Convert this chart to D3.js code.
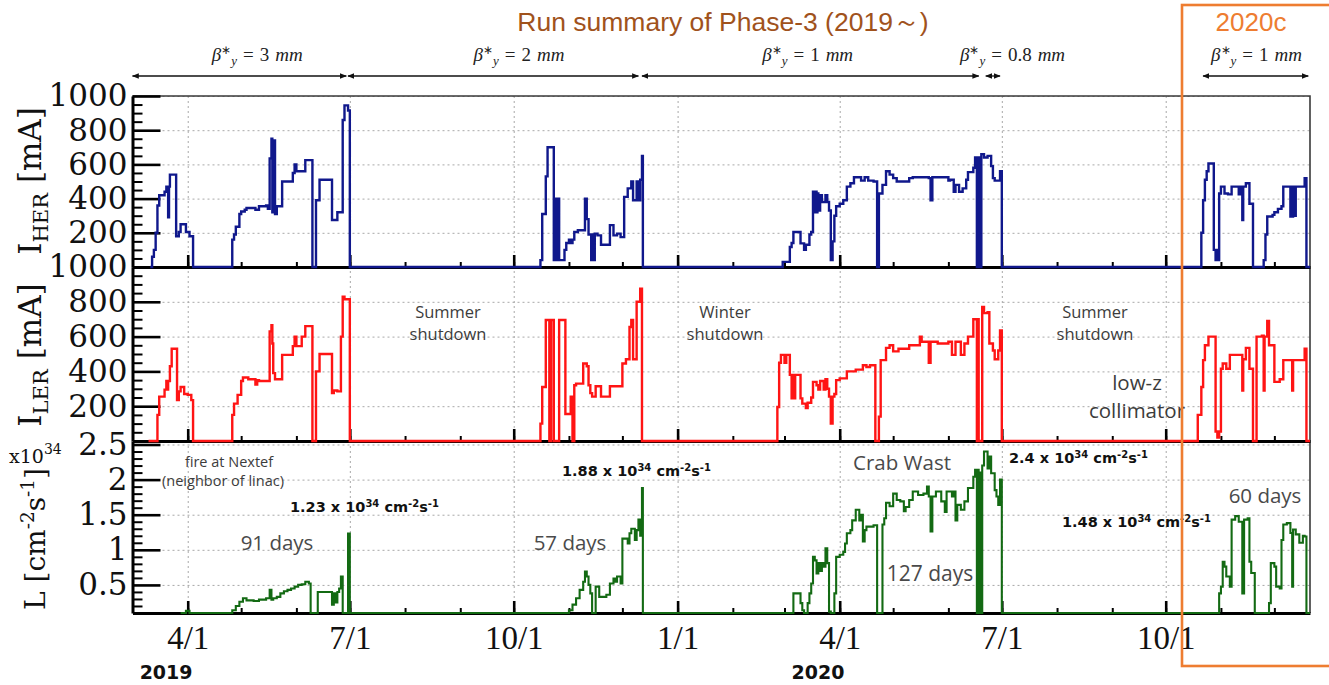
<!DOCTYPE html>
<html>
<head>
<meta charset="utf-8">
<script src="https://cdn.jsdelivr.net/npm/d3@7"></script>
<style>
  body { margin: 0; background: #fff; }
  svg { display: block; }
</style>
</head>
<body>
<svg id="chart" width="1329" height="685"></svg>
<script>
// ---------------------------------------------------------------
// SuperKEKB Phase-3 run summary: HER / LER stored current and
// peak luminosity, 2019-03 .. 2020-12 (step data, value holds until next date)
// ---------------------------------------------------------------

const xDomain = ["2019-03-01", "2020-12-21"];

// HER beam current [mA]
const herCurrent = [
  ["2019-03-11", 0], ["2019-03-12", 60], ["2019-03-13", 100], ["2019-03-14", 200], ["2019-03-15", 360],
  ["2019-03-16", 420], ["2019-03-19", 440], ["2019-03-20", 470], ["2019-03-21", 290], ["2019-03-21T12:00", 470],
  ["2019-03-22", 540], ["2019-03-25T12:00", 180], ["2019-03-27", 205], ["2019-03-28", 250], ["2019-03-31", 205],
  ["2019-04-02", 180], ["2019-04-04", 0],
  ["2019-04-26", 160], ["2019-04-27", 190], ["2019-04-28", 235], ["2019-04-30", 310], ["2019-05-01", 325],
  ["2019-05-03", 335], ["2019-05-04", 345], ["2019-05-09", 335], ["2019-05-11", 355], ["2019-05-15", 360],
  ["2019-05-16", 340], ["2019-05-17", 635], ["2019-05-18", 750], ["2019-05-18T12:00", 320], ["2019-05-19", 740],
  ["2019-05-20", 310], ["2019-05-21", 355], ["2019-05-24", 500], ["2019-05-30", 550], ["2019-05-31", 600],
  ["2019-06-01", 560], ["2019-06-06", 625], ["2019-06-10", 0], ["2019-06-12", 390], ["2019-06-14", 510],
  ["2019-06-21", 275], ["2019-06-24", 320], ["2019-06-27", 860], ["2019-06-28", 945], ["2019-06-30", 915],
  ["2019-07-01", 0],
  ["2019-10-16", 40], ["2019-10-17", 310], ["2019-10-19", 530], ["2019-10-20", 700], ["2019-10-23T12:00", 40],
  ["2019-10-24", 400], ["2019-10-24T08:00", 40], ["2019-10-24T16:00", 400], ["2019-10-25", 40],
  ["2019-10-25T08:00", 400], ["2019-10-25T16:00", 40], ["2019-10-26", 400], ["2019-10-26T12:00", 40],
  ["2019-10-29T12:00", 100], ["2019-10-30T12:00", 140], ["2019-11-01", 160], ["2019-11-02", 140], ["2019-11-03", 160],
  ["2019-11-04", 205], ["2019-11-06", 215], ["2019-11-10", 400], ["2019-11-11", 280], ["2019-11-12", 190],
  ["2019-11-13T12:00", 40], ["2019-11-14", 190], ["2019-11-14T12:00", 40], ["2019-11-15T12:00", 195],
  ["2019-11-17", 185], ["2019-11-19", 130], ["2019-11-24", 245], ["2019-11-26", 185], ["2019-11-28", 195],
  ["2019-11-30", 175], ["2019-12-02", 410], ["2019-12-04", 460], ["2019-12-06", 500], ["2019-12-07", 390],
  ["2019-12-09", 500], ["2019-12-10", 390], ["2019-12-11", 510], ["2019-12-12", 650], ["2019-12-12T12:00", 0],
  ["2020-02-29", 30], ["2020-03-04", 117], ["2020-03-05", 140], ["2020-03-06", 205], ["2020-03-10", 138],
  ["2020-03-12", 100], ["2020-03-13", 130], ["2020-03-15", 190], ["2020-03-16", 205], ["2020-03-17", 440],
  ["2020-03-18", 320], ["2020-03-18T12:00", 440], ["2020-03-19", 320], ["2020-03-19T12:00", 430], ["2020-03-20", 330],
  ["2020-03-21", 420], ["2020-03-22", 380], ["2020-03-24", 420], ["2020-03-25", 380], ["2020-03-26", 330],
  ["2020-03-27", 40], ["2020-03-28", 150], ["2020-03-29", 300], ["2020-03-30", 355], ["2020-04-01", 370],
  ["2020-04-03", 390], ["2020-04-05", 470], ["2020-04-07", 490], ["2020-04-09", 525], ["2020-04-13", 505],
  ["2020-04-15", 525], ["2020-04-17", 505], ["2020-04-20", 500], ["2020-04-22", 0], ["2020-04-23", 430],
  ["2020-04-25", 480], ["2020-04-27", 560], ["2020-04-29", 540], ["2020-05-01", 520], ["2020-05-03", 500],
  ["2020-05-10", 520], ["2020-05-12", 525], ["2020-05-21", 520], ["2020-05-22", 390], ["2020-05-23", 525],
  ["2020-06-01", 505], ["2020-06-02", 510], ["2020-06-04", 440], ["2020-06-05", 480], ["2020-06-07", 440],
  ["2020-06-09", 460], ["2020-06-11", 510], ["2020-06-12", 555], ["2020-06-15", 580], ["2020-06-16", 640],
  ["2020-06-17", 0], ["2020-06-17T12:00", 640], ["2020-06-18", 0], ["2020-06-18T12:00", 640], ["2020-06-19", 0],
  ["2020-06-19T12:00", 660], ["2020-06-21", 640], ["2020-06-23", 650], ["2020-06-25", 590], ["2020-06-26", 520],
  ["2020-06-27", 505], ["2020-06-30", 560], ["2020-07-01", 0],
  ["2020-10-21", 200], ["2020-10-22", 390], ["2020-10-23", 510], ["2020-10-24", 560], ["2020-10-25", 605],
  ["2020-10-28", 100], ["2020-10-29", 40], ["2020-10-29T12:00", 100], ["2020-10-30", 40], ["2020-10-31", 430],
  ["2020-11-01", 470], ["2020-11-03", 430], ["2020-11-05", 425], ["2020-11-07", 470], ["2020-11-10", 470],
  ["2020-11-11", 425], ["2020-11-12", 470], ["2020-11-13", 275], ["2020-11-13T12:00", 470], ["2020-11-15", 490],
  ["2020-11-17", 370], ["2020-11-19", 0], ["2020-11-25", 40], ["2020-11-26", 190], ["2020-11-27", 295],
  ["2020-11-30", 305], ["2020-12-01", 320], ["2020-12-03", 340], ["2020-12-05", 355], ["2020-12-06", 470],
  ["2020-12-10", 295], ["2020-12-10T12:00", 470], ["2020-12-11", 295], ["2020-12-11T12:00", 470],
  ["2020-12-12", 300], ["2020-12-13", 470], ["2020-12-18", 520], ["2020-12-19", 0], ["2020-12-21", 0]
];

// LER beam current [mA]
const lerCurrent = [
  ["2019-03-10", 0], ["2019-03-15", 150], ["2019-03-16", 255], ["2019-03-19", 295], ["2019-03-20", 345],
  ["2019-03-20T12:00", 295], ["2019-03-21", 345], ["2019-03-22", 430], ["2019-03-23", 530], ["2019-03-26", 235],
  ["2019-03-27", 285], ["2019-03-28", 310], ["2019-03-30", 270], ["2019-04-01", 265], ["2019-04-03", 235],
  ["2019-04-04", 0],
  ["2019-04-26", 150], ["2019-04-27", 215], ["2019-04-29", 265], ["2019-05-01", 345], ["2019-05-02", 365],
  ["2019-05-05", 355], ["2019-05-09", 325], ["2019-05-10", 350], ["2019-05-11", 345], ["2019-05-17", 630],
  ["2019-05-18", 665], ["2019-05-18T12:00", 560], ["2019-05-19", 390], ["2019-05-20", 355], ["2019-05-24", 495],
  ["2019-05-30", 545], ["2019-05-31", 600], ["2019-06-01", 545], ["2019-06-04", 600], ["2019-06-06", 660],
  ["2019-06-10", 0], ["2019-06-12", 400], ["2019-06-14", 500], ["2019-06-21", 275], ["2019-06-22", 290],
  ["2019-06-24", 285], ["2019-06-26", 600], ["2019-06-27", 830], ["2019-06-28", 815], ["2019-07-01", 0],
  ["2019-10-16", 100], ["2019-10-17", 310], ["2019-10-19", 695], ["2019-10-21", 0], ["2019-10-22", 695],
  ["2019-10-23T12:00", 0], ["2019-10-26T12:00", 695], ["2019-10-30", 155], ["2019-11-02", 255], ["2019-11-03", 0],
  ["2019-11-04", 320], ["2019-11-05", 330], ["2019-11-09", 445], ["2019-11-11", 430], ["2019-11-12", 320],
  ["2019-11-13", 275], ["2019-11-14", 255], ["2019-11-16", 315], ["2019-11-19", 255], ["2019-11-24", 315],
  ["2019-12-01", 445], ["2019-12-03", 470], ["2019-12-05", 655], ["2019-12-06", 695], ["2019-12-07", 470],
  ["2019-12-09", 800], ["2019-12-11", 875], ["2019-12-12", 0],
  ["2020-02-26", 195], ["2020-02-27", 450], ["2020-02-28", 495], ["2020-03-01", 450], ["2020-03-02", 495],
  ["2020-03-04", 380], ["2020-03-05", 245], ["2020-03-05T12:00", 380], ["2020-03-06", 245], ["2020-03-07", 380],
  ["2020-03-10", 245], ["2020-03-11", 215], ["2020-03-13", 190], ["2020-03-14", 220], ["2020-03-16", 250],
  ["2020-03-17", 340], ["2020-03-19", 320], ["2020-03-20", 295], ["2020-03-21", 345], ["2020-03-23", 295],
  ["2020-03-24", 355], ["2020-03-25", 300], ["2020-03-26", 255], ["2020-03-27", 100], ["2020-03-28", 255],
  ["2020-03-29", 270], ["2020-03-30", 350], ["2020-04-01", 360], ["2020-04-05", 400], ["2020-04-10", 410],
  ["2020-04-14", 435], ["2020-04-16", 425], ["2020-04-18", 435], ["2020-04-21", 0], ["2020-04-23", 140],
  ["2020-04-24", 465], ["2020-04-27", 535], ["2020-04-29", 550], ["2020-05-01", 515], ["2020-05-04", 530],
  ["2020-05-10", 550], ["2020-05-16", 600], ["2020-05-17", 570], ["2020-05-21", 450], ["2020-05-22", 570],
  ["2020-05-26", 560], ["2020-06-01", 570], ["2020-06-03", 495], ["2020-06-05", 570], ["2020-06-08", 495],
  ["2020-06-10", 560], ["2020-06-12", 600], ["2020-06-15", 700], ["2020-06-17", 0], ["2020-06-17T12:00", 700],
  ["2020-06-18", 0], ["2020-06-20", 770], ["2020-06-21", 735], ["2020-06-23", 740], ["2020-06-24", 560],
  ["2020-06-26", 520], ["2020-06-27", 470], ["2020-06-29", 520], ["2020-06-30", 635], ["2020-07-01", 0],
  ["2020-10-19", 150], ["2020-10-21", 310], ["2020-10-22", 465], ["2020-10-23", 550], ["2020-10-25", 600],
  ["2020-10-29", 55], ["2020-10-30", 20], ["2020-10-31", 55], ["2020-11-01", 415], ["2020-11-02", 445],
  ["2020-11-04", 415], ["2020-11-06", 495], ["2020-11-12", 495], ["2020-11-13", 290], ["2020-11-13T12:00", 470],
  ["2020-11-15", 535], ["2020-11-17", 415], ["2020-11-19", 0], ["2020-11-21", 600], ["2020-11-24", 605],
  ["2020-11-25", 290], ["2020-11-25T12:00", 600], ["2020-11-27", 690], ["2020-11-28", 550], ["2020-12-01", 340],
  ["2020-12-04", 355], ["2020-12-06", 465], ["2020-12-11", 290], ["2020-12-11T12:00", 465], ["2020-12-18", 530],
  ["2020-12-19", 0], ["2020-12-21", 0]
];

// Peak luminosity [x10^34 cm^-2 s^-1]
const luminosity = [
  ["2019-03-28", 0], ["2019-03-31", 0.13], ["2019-04-02", 0],
  ["2019-04-26", 0.14], ["2019-04-28", 0.2], ["2019-04-30", 0.26], ["2019-05-02", 0.31], ["2019-05-04", 0.28],
  ["2019-05-08", 0.27], ["2019-05-11", 0.29], ["2019-05-15", 0.31], ["2019-05-17", 0.43], ["2019-05-18", 0.29],
  ["2019-05-19", 0.31], ["2019-05-21", 0.33], ["2019-05-23", 0.38], ["2019-05-25", 0.41], ["2019-05-27", 0.43],
  ["2019-05-29", 0.45], ["2019-05-31", 0.475], ["2019-06-02", 0.5], ["2019-06-04", 0.51], ["2019-06-06", 0.545],
  ["2019-06-08", 0.52], ["2019-06-09", 0], ["2019-06-13", 0.4], ["2019-06-21", 0.22], ["2019-06-22", 0.38],
  ["2019-06-23", 0.25], ["2019-06-24", 0.4], ["2019-06-25", 0.45], ["2019-06-26", 0.62], ["2019-06-27", 0],
  ["2019-06-29", 0.1], ["2019-06-30", 1.23], ["2019-07-01", 0],
  ["2019-11-01", 0.14], ["2019-11-03", 0.22], ["2019-11-05", 0.31], ["2019-11-07", 0.43], ["2019-11-09", 0.545],
  ["2019-11-10", 0.69], ["2019-11-11", 0.62], ["2019-11-12", 0.5], ["2019-11-13", 0.38], ["2019-11-14", 0],
  ["2019-11-16", 0.475], ["2019-11-18", 0.33], ["2019-11-22", 0.36], ["2019-11-24", 0.52], ["2019-11-26", 0.59],
  ["2019-11-27", 0.545], ["2019-11-28", 0.62], ["2019-11-30", 0.52], ["2019-12-01", 1.16], ["2019-12-04", 1.09],
  ["2019-12-05", 1.235], ["2019-12-06", 1.3], ["2019-12-08", 1.14], ["2019-12-09", 1.28], ["2019-12-10", 1.43],
  ["2019-12-11", 1.2], ["2019-12-12", 1.88], ["2019-12-12T12:00", 0],
  ["2020-03-06", 0.38], ["2020-03-10", 0.24], ["2020-03-11", 0.14], ["2020-03-12", 0], ["2020-03-13", 0.1],
  ["2020-03-14", 0.24], ["2020-03-15", 0.38], ["2020-03-16", 0.52], ["2020-03-17", 0.9], ["2020-03-18", 0.85],
  ["2020-03-19", 0.665], ["2020-03-20", 0.81], ["2020-03-21", 0.7], ["2020-03-22", 0.81], ["2020-03-23", 0.76],
  ["2020-03-24", 1.02], ["2020-03-25", 0.81], ["2020-03-26", 0.12], ["2020-03-27", 0], ["2020-03-29", 0.38],
  ["2020-03-30", 0.9], ["2020-04-01", 0.93], ["2020-04-03", 0.97], ["2020-04-04", 1.09], ["2020-04-05", 1.235],
  ["2020-04-07", 1.28], ["2020-04-08", 1.42], ["2020-04-10", 1.57], ["2020-04-12", 1.42], ["2020-04-13", 1.5],
  ["2020-04-14", 1.12], ["2020-04-15", 1.28], ["2020-04-16", 1.33], ["2020-04-20", 1.35], ["2020-04-22", 0],
  ["2020-04-25", 1.36], ["2020-04-26", 1.45], ["2020-04-27", 1.67], ["2020-04-29", 1.62], ["2020-05-01", 1.8],
  ["2020-05-03", 1.71], ["2020-05-05", 1.69], ["2020-05-07", 1.55], ["2020-05-08", 1.61], ["2020-05-10", 1.71],
  ["2020-05-12", 1.83], ["2020-05-15", 1.78], ["2020-05-18", 1.8], ["2020-05-20", 1.9], ["2020-05-21", 1.76],
  ["2020-05-22", 1.26], ["2020-05-23", 1.76], ["2020-05-25", 1.83], ["2020-05-28", 1.69], ["2020-05-30", 1.54],
  ["2020-05-31", 1.83], ["2020-06-03", 1.76], ["2020-06-04", 1.83], ["2020-06-05", 1.42], ["2020-06-06", 1.64],
  ["2020-06-08", 1.57], ["2020-06-10", 1.69], ["2020-06-12", 1.88], ["2020-06-15", 2.04], ["2020-06-16", 2.14],
  ["2020-06-17", 0], ["2020-06-17T12:00", 2.14], ["2020-06-18", 0], ["2020-06-18T12:00", 2.1], ["2020-06-19", 0],
  ["2020-06-20", 2.2], ["2020-06-21", 2.4], ["2020-06-23", 2.16], ["2020-06-24", 2.33], ["2020-06-25", 2.09],
  ["2020-06-27", 1.85], ["2020-06-28", 1.76], ["2020-06-29", 1.64], ["2020-06-30", 2.0], ["2020-07-01", 0],
  ["2020-10-31", 0.38], ["2020-11-01", 0.475], ["2020-11-02", 0.83], ["2020-11-03", 0.76], ["2020-11-04", 0.62],
  ["2020-11-06", 0.475], ["2020-11-07", 1.43], ["2020-11-09", 1.48], ["2020-11-11", 1.4], ["2020-11-13", 0.38],
  ["2020-11-14", 1.43], ["2020-11-16", 1.45], ["2020-11-17", 0.83], ["2020-11-18", 0.67], ["2020-11-20", 0],
  ["2020-11-28", 0.24], ["2020-11-29", 0.81], ["2020-12-01", 0.76], ["2020-12-02", 0.475], ["2020-12-04", 0.45],
  ["2020-12-05", 1.14], ["2020-12-06", 1.36], ["2020-12-08", 1.38], ["2020-12-10", 1.24], ["2020-12-11", 0.475],
  ["2020-12-11T12:00", 1.29], ["2020-12-13", 1.22], ["2020-12-15", 1.1], ["2020-12-17", 1.2], ["2020-12-18", 1.19],
  ["2020-12-19", 0], ["2020-12-21", 0]
];

// Axis tick labels
const herTicks = [1000, 800, 600, 400, 200];
const lerTicks = [1000, 800, 600, 400, 200];
const lumTicks = [2.5, 2, 1.5, 1, 0.5];
const yearLabels = ["2019", "2020"];

// beta*_y optics periods
const betaValues = ["3", "2", "1", "0.8", "1"];
const betaStart = ["2019-03-01", "2019-06-30", "2019-12-12", "2020-06-22", "2020-10-22"];
const betaEnd = ["2019-06-29", "2019-12-10", "2020-06-18", "2020-06-30", "2020-12-20"];
const betaLabelAt = ["2019-05-10", "2019-10-04", "2020-03-14", "2020-07-07", "2020-11-21"];

// ---------------------------------------------------------------
const parseDay = d3.utcParse("%Y-%m-%d");
const parseHour = d3.utcParse("%Y-%m-%dT%H:%M");
const toDate = s => parseHour(s) || parseDay(s);
const rows = arr => arr.map(([d, v]) => ({ date: toDate(d), value: v }));

const svg = d3.select("#chart");
svg.append("rect").attr("width", 1329).attr("height", 685).attr("fill", "#fff");

const x = d3.scaleUtc().domain(xDomain.map(toDate)).range([132.5, 1310]);
const yHer = d3.scaleLinear().domain([0, 1000]).range([267, 96]);
const yLer = d3.scaleLinear().domain([0, 1000]).range([441, 267]);
const yLum = d3.scaleLinear().domain([0.1, 2.55]).range([613, 441]).clamp(true);

const plotLeft = x.range()[0], plotRight = x.range()[1];
const plotTop = yHer.range()[1], plotBottom = yLum.range()[0];

const serif = "'DejaVu Serif', serif";
const sans = "'Open Sans', sans-serif";

const panels = [
  { data: rows(herCurrent), y: yHer, ticks: herTicks, minor: d3.range(1, 20).map(i => i * 50).filter(v => v % 200),
    color: "#10188c", width: 2.4 },
  { data: rows(lerCurrent), y: yLer, ticks: lerTicks, minor: d3.range(1, 20).map(i => i * 50).filter(v => v % 200),
    color: "#ff1414", width: 2.4 },
  { data: rows(luminosity), y: yLum, ticks: lumTicks, minor: d3.range(2, 25).map(i => i / 10).filter(v => Math.round(v * 10) % 5),
    color: "#136a13", width: 2.1 }
];

// ---- gridlines ----
const grid = svg.append("g").attr("class", "grid");
grid.append("g")
  .attr("transform", `translate(0,${plotBottom})`)
  .call(d3.axisBottom(x).ticks(d3.utcMonth.every(3)).tickSize(-(plotBottom - plotTop)).tickFormat(""))
  .call(g => g.select(".domain").remove());
panels.forEach(p => {
  grid.append("g")
    .attr("transform", `translate(${plotLeft},0)`)
    .call(d3.axisLeft(p.y).tickValues(p.ticks).tickSize(-(plotRight - plotLeft)).tickFormat(""))
    .call(g => g.select(".domain").remove());
});
grid.selectAll("line").attr("stroke", "#a8a8a8").attr("stroke-width", 1).attr("stroke-dasharray", "2,3");

// ---- frame ----
svg.append("path")
  .attr("d", `M${plotLeft},${plotTop}H${plotRight}V${plotBottom}`)
  .attr("fill", "none").attr("stroke", "#3a3a3a").attr("stroke-width", 1.6);

// ---- axes ----
const fmtDate = d3.utcFormat("%-m/%-d");
panels.forEach((p, i) => {
  const base = p.y.range()[0];
  const isLast = i === panels.length - 1;
  // monthly minor ticks
  svg.append("g").attr("transform", `translate(0,${base})`)
    .call(d3.axisBottom(x).ticks(d3.utcMonth.every(1)).tickSizeInner(-5).tickSizeOuter(0).tickFormat(""))
    .call(g => g.select(".domain").remove())
    .selectAll("line").attr("stroke", "#000").attr("stroke-width", 2);
  // quarterly ticks and bottom axis line
  const ax = svg.append("g").attr("transform", `translate(0,${base})`)
    .call(d3.axisBottom(x).ticks(d3.utcMonth.every(3)).tickSizeInner(-12).tickSizeOuter(0)
      .tickPadding(13).tickFormat(isLast ? fmtDate : ""));
  ax.select(".domain").attr("stroke", "#000").attr("stroke-width", 3);
  ax.selectAll(".tick line").attr("stroke", "#000").attr("stroke-width", 2.6);
  ax.selectAll("text").attr("font-family", "'Liberation Serif', serif").attr("font-size", 33).attr("fill", "#111");

  // left minor ticks
  svg.append("g").attr("transform", `translate(${plotLeft},0)`)
    .call(d3.axisLeft(p.y).tickValues(p.minor).tickSizeInner(-10).tickSizeOuter(0).tickFormat(""))
    .call(g => g.select(".domain").remove())
    .selectAll("line").attr("stroke", "#000").attr("stroke-width", 2);
  // left major ticks
  const ay = svg.append("g").attr("transform", `translate(${plotLeft},0)`)
    .call(d3.axisLeft(p.y).tickValues(p.ticks).tickSizeInner(-28).tickSizeOuter(0).tickPadding(5).tickFormat(d3.format("")));
  ay.select(".domain").attr("stroke", "#000").attr("stroke-width", 3);
  ay.selectAll(".tick line").attr("stroke", "#000").attr("stroke-width", 2.6);
  ay.selectAll("text").attr("font-family", serif).attr("font-size", 31).attr("fill", "#111");
});

// ---- series ----
panels.forEach(p => {
  const line = d3.line().x(d => x(d.date)).y(d => p.y(d.value)).curve(d3.curveStepAfter);
  svg.append("path").datum(p.data)
    .attr("d", line)
    .attr("fill", "none")
    .attr("stroke", p.color)
    .attr("stroke-width", p.width)
    .attr("stroke-linejoin", "miter");
});

// ---- y axis titles ----
function axisTitle(cx, cy, size, parts) {
  const t = svg.append("text")
    .attr("transform", `translate(${cx},${cy}) rotate(-90)`)
    .attr("text-anchor", "middle")
    .attr("font-family", serif).attr("font-size", size).attr("fill", "#111");
  parts.forEach(([s, k, dy]) => t.append("tspan").attr("font-size", size * k).attr("dy", dy).text(s));
}
axisTitle(41, 181, 31, [["I", 1, 0], ["HER", 0.68, 7], [" [mA]", 1, -7]]);
axisTitle(41, 355, 31, [["I", 1, 0], ["LER", 0.68, 7], [" [mA]", 1, -7]]);
axisTitle(45, 539, 28, [["L [cm", 1, 0], ["-2", 0.66, -11], ["s", 1, 11], ["-1", 0.66, -11], ["]", 1, 11]]);

const scaleNote = svg.append("text").attr("x", 9).attr("y", 463)
  .attr("font-family", serif).attr("font-size", 19).attr("fill", "#111");
scaleNote.append("tspan").text("x10");
scaleNote.append("tspan").attr("font-size", 14).attr("dy", -9).text("34");

// ---- year labels under the date axis ----
svg.selectAll(".year").data(yearLabels).join("text")
  .attr("x", d => x(toDate(d + "-03-05")))
  .attr("y", 679)
  .attr("font-family", "'DejaVu Sans', sans-serif").attr("font-weight", "bold").attr("font-size", 19)
  .attr("fill", "#111").text(d => d);

// ---- beta*_y periods ----
const defs = svg.append("defs");
defs.append("marker").attr("id", "arrowhead")
  .attr("viewBox", "0 0 10 10").attr("refX", 9).attr("refY", 5)
  .attr("markerWidth", 7).attr("markerHeight", 7).attr("markerUnits", "userSpaceOnUse")
  .attr("orient", "auto-start-reverse")
  .append("path").attr("d", "M0,1 L10,5 L0,9 z").attr("fill", "#111");

betaValues.forEach((v, i) => {
  svg.append("line")
    .attr("x1", x(toDate(betaStart[i]))).attr("x2", x(toDate(betaEnd[i])))
    .attr("y1", 76).attr("y2", 76)
    .attr("stroke", "#111").attr("stroke-width", 1.3)
    .attr("marker-start", "url(#arrowhead)").attr("marker-end", "url(#arrowhead)");
  const t = svg.append("text")
    .attr("x", x(toDate(betaLabelAt[i]))).attr("y", 61)
    .attr("text-anchor", "middle")
    .attr("font-family", "'Liberation Serif', serif").attr("font-size", 19).attr("fill", "#222");
  t.append("tspan").attr("font-style", "italic").text("β");
  t.append("tspan").attr("font-size", 12).attr("dy", -7).text("∗");
  t.append("tspan").attr("font-style", "italic").attr("font-size", 13).attr("dy", 11).text("y");
  t.append("tspan").attr("dx", 6).attr("dy", -4).text("=");
  t.append("tspan").attr("dx", 6).text(v);
  t.append("tspan").attr("dx", 6).attr("font-style", "italic").text("mm");
});

// ---- annotations ----
function note(x0, y0, s, size, opts = {}) {
  return svg.append("text").attr("x", x0).attr("y", y0)
    .attr("text-anchor", opts.anchor || "middle")
    .attr("font-family", opts.family || sans)
    .attr("font-size", size)
    .attr("fill", opts.fill || "#3c3c3c")
    .text(s);
}
note(448, 318, "Summer", 16.5); note(448, 340, "shutdown", 16.5);
note(725, 318, "Winter", 16.5); note(725, 340, "shutdown", 16.5);
note(1095, 318, "Summer", 16.5); note(1095, 340, "shutdown", 16.5);
note(1137, 390, "low-z", 20.5); note(1137, 418, "collimator", 20.5);
note(229, 467, "fire at Nextef", 14.5); note(223, 486, "(neighbor of linac)", 14.5);
note(277, 550, "91 days", 20.5, { fill: "#4a4a4a" });
note(570, 550, "57 days", 20.5, { fill: "#4a4a4a" });
note(902, 470, "Crab Wast", 20.5, { fill: "#4a4a4a" });
note(930, 581, "127 days", 21, { fill: "#4a4a4a" });
note(1265, 503, "60 days", 20.5, { fill: "#4a4a4a" });

function lumiLabel(x0, y0, value) {
  const t = svg.append("text").attr("x", x0).attr("y", y0)
    .attr("font-family", "'DejaVu Sans', sans-serif").attr("font-weight", "bold")
    .attr("font-size", 14.5).attr("fill", "#111");
  t.append("tspan").text(value + " x 10");
  t.append("tspan").attr("font-size", 10).attr("dy", -5).text("34");
  t.append("tspan").attr("dy", 5).text(" cm");
  t.append("tspan").attr("font-size", 10).attr("dy", -5).text("-2");
  t.append("tspan").attr("dy", 5).text("s");
  t.append("tspan").attr("font-size", 10).attr("dy", -5).text("-1");
}
lumiLabel(290, 512, "1.23");
lumiLabel(562, 476, "1.88");
lumiLabel(1009, 463, "2.4");
lumiLabel(1062, 527, "1.48");

// ---- title and 2020c run box ----
svg.append("text").attr("x", 723).attr("y", 31).attr("text-anchor", "middle")
  .attr("font-family", "'Liberation Sans', Arial, sans-serif").attr("font-size", 26.5)
  .attr("fill", "#a0521c").text("Run summary of Phase-3 (2019～)");
svg.append("rect").attr("x", 1182).attr("y", 5).attr("width", 200).attr("height", 661)
  .attr("fill", "none").attr("stroke", "#ee7d31").attr("stroke-width", 2.6);
svg.append("text").attr("x", 1251).attr("y", 31).attr("text-anchor", "middle")
  .attr("font-family", "'Liberation Sans', Arial, sans-serif").attr("font-size", 26)
  .attr("fill", "#ee7d31").text("2020c");
</script>
</body>
</html>
